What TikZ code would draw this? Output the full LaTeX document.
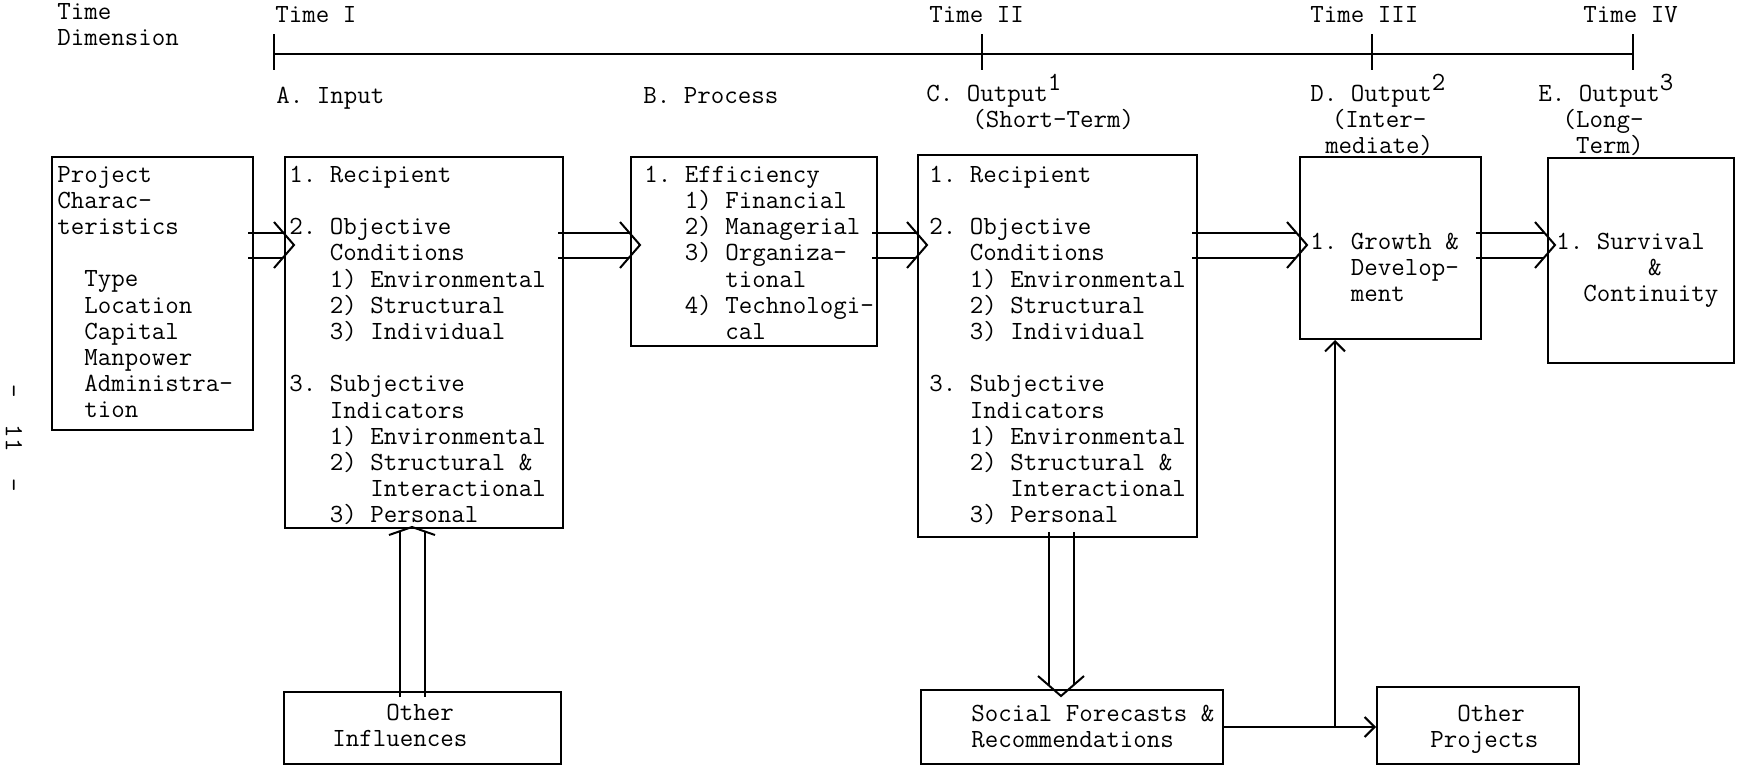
\documentclass[tikz,border=0pt]{standalone}
\usetikzlibrary{positioning,fit,arrows.meta,calc,backgrounds}

\newcommand{\colskip}[1]{\hspace*{#1\fontcharwd\font`0}}
\newcommand{\raisenum}[1]{\raisebox{5.5pt}[0pt][0pt]{#1}}
% hollow double flow: [chevron length]{from}{to}{overshoot into target}
\newcommand{\flow}[4][10pt]{%
	\coordinate (tip) at ($(#3)!-#4!(#2)$);
	\coordinate (back) at ($(tip)!#1!(#2)$);
	\begin{scope}[on background layer]
		\draw[strand, shorten >=0.54*#1] (#2) -- (tip);
	\end{scope}
	\draw[chev] ($(back)!11.5pt!90:(tip)$) -- (tip) -- ($(back)!11.5pt!-90:(tip)$);
}

\tikzset{
	box/.style={draw, line width=1pt, inner sep=0pt},
	tt/.style={font=\ttfamily\fontsize{13.1pt}{13.1pt}\selectfont\frenchspacing, inner sep=0pt},
	txt/.style={tt, align=left, anchor=north west, yshift=9.17pt, execute at begin node=\strut},
	strand/.style={double, double distance=11.5pt, line width=1pt, shorten <=-3pt},
	chev/.style={line width=1pt},
	link/.style={line width=1pt, -{Straight Barb[length=5pt,width=10pt]}},
}

\begin{document}
\begin{tikzpicture}[x=0.5pt, y=-0.5pt]
	\useasboundingbox (0,0) rectangle (1742,766);

	% time axis
	\node[txt] (dim) at (57,21) {Time\\Dimension};
	\node[txt] (tI) at (275,22) {Time I};
	\node[txt] (tII) at (929,22) {Time II};
	\node[txt] (tIII) at (1310,22) {Time III};
	\node[txt] (tIV) at (1583,22) {Time IV};

	\coordinate (m1) at (274,54);
	\coordinate (m2) at (982,54);
	\coordinate (m3) at (1372,54);
	\coordinate (m4) at (1633,54);
	\draw[line width=1pt] (m1) -- (m4);
	\foreach \m in {m1,m2,m3,m4}
		\draw[line width=1pt] ([yshift=10pt]\m) -- ([yshift=-8pt]\m);

	% stage headings
	\node[txt] (hA) at (276,103) {A. Input};
	\node[txt] (hB) at (643,103) {B. Process};
	\node[txt] (hC) at (926,103) {C. Output\raisenum{1}\\\colskip{3.4}(Short-Term)};
	\node[txt] (hD) at (1310,103) {D. Output\raisenum{2}\\\colskip{1.6}(Inter-\\\colskip{1.1}mediate)};
	\node[txt] (hE) at (1538,103) {E. Output\raisenum{3}\\\colskip{1.8}(Long-\\\colskip{2.8}Term)};

	% boxes
	\node[box, fit={(52,157) (253,430)}] (proj) {};
	\node[box, fit={(285,157) (563,528)}] (inA) {};
	\node[box, fit={(631,157) (877,346)}] (procB) {};
	\node[box, fit={(918,155) (1197,537)}] (outC) {};
	\node[box, fit={(1300,157) (1481,339)}] (outD) {};
	\node[box, fit={(1548,158) (1734,363)}] (outE) {};
	\node[box, fit={(284,692) (561,764)}] (infl) {};
	\node[box, fit={(921,690) (1223,764)}] (fore) {};
	\node[box, fit={(1377,687) (1579,764)}] (others) {};

	% box texts
	\node[txt] (projtxt) at (57,184) {Project\\Charac-\\teristics\\[13.1pt]
		\colskip{2}Type\\\colskip{2}Location\\\colskip{2}Capital\\
		\colskip{2}Manpower\\\colskip{2}Administra-\\\colskip{2}tion};
	\node[txt] (inAtxt) at (289,184) {1. Recipient\\[13.1pt]
		2. Objective\\\colskip{3}Conditions\\\colskip{3}1) Environmental\\
		\colskip{3}2) Structural\\\colskip{3}3) Individual\\[13.1pt]
		3. Subjective\\\colskip{3}Indicators\\\colskip{3}1) Environmental\\
		\colskip{3}2) Structural \&\\\colskip{6}Interactional\\\colskip{3}3) Personal};
	\node[txt] (procBtxt) at (644,184) {1. Efficiency\\\colskip{3}1) Financial\\
		\colskip{3}2) Managerial\\\colskip{3}3) Organiza-\\\colskip{6}tional\\
		\colskip{3}4) Technologi-\\\colskip{6}cal};
	\node[txt] (outCtxt) at (929,184) {1. Recipient\\[13.1pt]
		2. Objective\\\colskip{3}Conditions\\\colskip{3}1) Environmental\\
		\colskip{3}2) Structural\\\colskip{3}3) Individual\\[13.1pt]
		3. Subjective\\\colskip{3}Indicators\\\colskip{3}1) Environmental\\
		\colskip{3}2) Structural \&\\\colskip{6}Interactional\\\colskip{3}3) Personal};
	\node[txt] (outDtxt) at (1310,251) {1. Growth \&\\\colskip{3}Develop-\\\colskip{3}ment};
	\node[txt] (outEtxt) at (1556,251) {1. Survival\\\colskip{6.8}\&\\\colskip{2}Continuity};
	\node[txt] (infltxt) at (332,722) {\colskip{4}Other\\Influences};
	\node[txt] (foretxt) at (971,723) {Social Forecasts \&\\Recommendations};
	\node[txt] (otherstxt) at (1430,723) {\colskip{2}Other\\Projects};

	% page number
	\node[tt, rotate=-90] (pageno) at (14,438) {-\colskip{2}11\colskip{2}-};

	% flows
	\coordinate (row) at (0,245);
	\coordinate (upcol) at (412,0);
	\coordinate (downcol) at (1061,0);
	\coordinate (dcol) at (1335,0);
	\flow{proj.east |- row}{inA.west |- row}{5pt}
	\flow{inA.east |- row}{procB.west |- row}{5pt}
	\flow{procB.east |- row}{outC.west |- row}{5pt}
	\flow{outC.east |- row}{outD.west |- row}{4pt}
	\flow{outD.east |- row}{outE.west |- row}{4pt}
	\flow[4pt]{infl.north -| upcol}{inA.south -| upcol}{1pt}
	\flow{outC.south -| downcol}{fore.north -| downcol}{3.5pt}

	\coordinate (split) at (fore.east -| dcol);
	\draw[link] (fore.east) -- (others.west |- fore.east);
	\draw[link] (split) -- (split |- outD.south);
\end{tikzpicture}
\end{document}
